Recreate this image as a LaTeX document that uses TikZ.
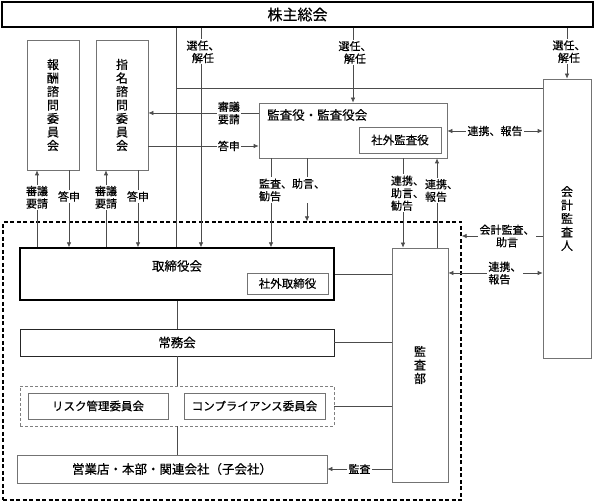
\documentclass[tikz,border=0pt]{standalone}
\usepackage{fontspec}
\setmainfont{Noto Sans CJK JP}[FakeBold=0.4]
\usetikzlibrary{arrows.meta}
\tikzset{
  box/.style={draw=black!55, line width=0.7pt, inner sep=0pt, font=\fontsize{12.5}{13.5}\selectfont},
  bigbox/.style={draw=black, line width=1.3pt, inner sep=0pt, font=\fontsize{12.5}{13.5}\selectfont},
  tatebox/.style={box, align=center, font=\fontsize{12}{13.5}\selectfont},
  lbl/.style={fill=white, inner sep=1.2pt, align=center, font=\fontsize{11}{12.5}\selectfont},
  conn/.style={draw=black!70, line width=0.7pt},
}
\begin{document}
\begin{tikzpicture}[x=1pt, y=-1pt, >={Latex[length=5pt,width=4.5pt]}]
    \useasboundingbox (0,0) rectangle (594,502);
    \node [draw=black, line width=1.4pt, dash pattern=on 4pt off 2.5pt, minimum width=458pt, minimum height=278pt] (naibu) at (232,361) {};
    \node [bigbox, minimum width=591pt, minimum height=25pt, font=\fontsize{15}{15}\selectfont] (soukai) at (297.5,14.5) {株主総会};
    \node [tatebox, minimum width=52pt, minimum height=130pt] (houshu) at (53,105) {報\\酬\\諮\\問\\委\\員\\会};
    \node [tatebox, minimum width=52pt, minimum height=130pt] (shimei) at (122,105) {指\\名\\諮\\問\\委\\員\\会};
    \node [box, minimum width=188pt, minimum height=55pt] (kansayaku) at (353,130.5) {};
    \node [anchor=west, inner sep=0pt, font=\fontsize{12.5}{13.5}\selectfont] (kansayakuTitle) at (267,115) {監査役・監査役会};
    \node [box, minimum width=82pt, minimum height=26pt, font=\fontsize{11.5}{12.5}\selectfont] (shagaiKansa) at (400,140) {社外監査役};
    \node [tatebox, minimum width=48pt, minimum height=279pt] (kaikei) at (567,218.5) {会\\計\\監\\査\\人};
    \node [bigbox, minimum width=314pt, minimum height=52pt] (torishimari) at (177,274) {};
    \node [font=\fontsize{12.5}{13.5}\selectfont] (torishimariTitle) at (177,266) {取締役会};
    \node [box, minimum width=81pt, minimum height=21pt, font=\fontsize{11.5}{12.5}\selectfont] (shagaiTori) at (287.5,283.5) {社外取締役};
    \node [box, draw=black!85, line width=0.9pt, minimum width=314pt, minimum height=27pt] (joumu) at (177,342.5) {常務会};
    \node [draw=black!50, line width=0.8pt, dash pattern=on 3pt off 2pt, minimum width=314pt, minimum height=40pt] (iinkai) at (177,406) {};
    \node [box, minimum width=140pt, minimum height=26pt, font=\fontsize{11.5}{12.5}\selectfont] (risk) at (98,406) {リスク管理委員会};
    \node [box, minimum width=141pt, minimum height=26pt, font=\fontsize{11.5}{12.5}\selectfont] (comp) at (254.5,406) {コンプライアンス委員会};
    \node [box, minimum width=310pt, minimum height=28pt] (eigyou) at (172,469) {営業店・本部・関連会社（子会社）};
    \node [tatebox, minimum width=56pt, minimum height=234pt] (kansabu) at (420,365) {監\\査\\部};

    \draw [conn] (soukai.south -| 176,0) -- (torishimari.north -| 176,0);
    \coordinate (bunki) at (176,88);
    \draw [conn] (bunki) -- (bunki -| kaikei.west);
    \draw [conn, ->] (soukai.south -| 201,0) -- node [lbl, pos=0.11, xshift=2pt] {選任、\\解任} (torishimari.north -| 201,0);
    \draw [conn, ->] (soukai.south -| 353,0) -- node [lbl, pos=0.33, xshift=2pt] {選任、\\解任} (kansayaku.north -| 353,0);
    \draw [conn, ->] (soukai.south -| 567,0) -- node [lbl, pos=0.47, xshift=2pt] {選任、\\解任} (kaikei.north);

    \draw [conn, ->] (torishimari.north -| 37,0) -- node [lbl, pos=0.65] {審議\\要請} (houshu.south -| 37,0);
    \draw [conn, ->] (houshu.south -| 69,0) -- node [lbl, pos=0.34] {答申} (torishimari.north -| 69,0);
    \draw [conn, ->] (torishimari.north -| 106,0) -- node [lbl, pos=0.65] {審議\\要請} (shimei.south -| 106,0);
    \draw [conn, ->] (shimei.south -| 138,0) -- node [lbl, pos=0.34] {答申} (torishimari.north -| 138,0);

    \draw [conn, ->] (kansayaku.west |- 0,113) -- node [lbl, pos=0.27] {審議\\要請} (shimei.east |- 0,113);
    \draw [conn, ->] (shimei.east |- 0,146) -- node [lbl, pos=0.73] {答申} (kansayaku.west |- 0,146);

    \draw [conn, ->] (kansayaku.south -| 271,0) -- (torishimari.north -| 271,0);
    \draw [conn, ->] (kansayaku.south -| 307,0) -- (naibu.north -| 307,0);
    \node [lbl, align=left] (kankoku) at (292,190) {監査、助言、\\勧告};
    \draw [conn, ->] (kansayaku.south -| 403,0) -- node [lbl, pos=0.39, xshift=4.5pt, align=left] {連携、\\助言、\\勧告} (kansabu.north -| 403,0);
    \draw [conn, ->] (kansabu.north -| 437,0) -- node [lbl, pos=0.64, xshift=4.5pt, align=left] {連携、\\報告} (kansayaku.south -| 437,0);

    \draw [conn, <->] (kansayaku.east |- 0,131) -- node [lbl] {連携、報告} (kaikei.west |- 0,131);
    \draw [conn, ->] (kaikei.west |- 0,236) -- node [lbl, pos=0.44] {会計監査、\\助言} (naibu.east |- 0,236);
    \draw [conn, <->] (kansabu.east |- 0,273) -- node [lbl, pos=0.6, align=left] {連携、\\報告} (kaikei.west |- 0,273);

    \draw [conn] (kansabu.west |- torishimari.east) -- (torishimari.east);
    \draw [conn] (kansabu.west |- joumu.east) -- (joumu.east);
    \draw [conn] (kansabu.west |- iinkai.east) -- (iinkai.east);
    \draw [conn, ->] (kansabu.west |- eigyou.east) -- node [lbl] {監査} (eigyou.east);

    \draw [conn] (torishimari.south) -- (joumu.north);
    \draw [conn] (joumu.south) -- (iinkai.north);
    \draw [conn] (iinkai.south) -- (iinkai.south |- eigyou.north);
\end{tikzpicture}
\end{document}
